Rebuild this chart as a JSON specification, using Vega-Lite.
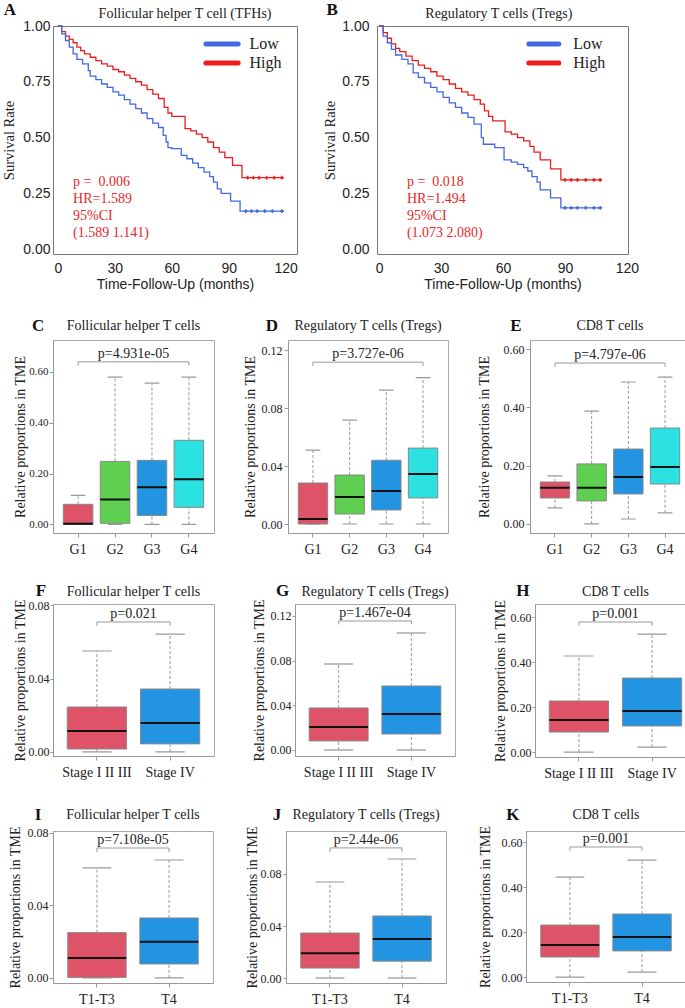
{
 "$schema": "https://vega.github.io/schema/vega-lite/v6.json",
 "background": "white",
 "padding": {"left": 1, "top": 0, "right": 1, "bottom": 0},
 "spacing": 24,
 "config": {
  "font": "Liberation Serif",
  "view": {"stroke": "#a8a8a8", "strokeWidth": 1},
  "axis": {"grid": false, "labelFont": "Liberation Serif", "titleFont": "Liberation Serif", "titleFontWeight": "normal", "labelColor": "#222", "titleColor": "#222", "domainColor": "#999", "tickColor": "#999"},
  "axisX": {"labelAngle": 0, "labelFontSize": 14, "tickSize": 4, "labelPadding": 5},
  "axisY": {"labelFontSize": 12, "titleFontSize": 14, "tickSize": 3, "labelPadding": 1}
 },
 "vconcat": [
  {
   "spacing": 24,
   "hconcat": [
    {
     "width": 244, "height": 228,
     "view": {"stroke": "#777"},
     "layer": [
      {
       "data": {"values": [
        {"grp":"High","t":0,"s":1},{"grp":"High","t":2,"s":0.975},{"grp":"High","t":4,"s":0.955},{"grp":"High","t":6,"s":0.94},{"grp":"High","t":8,"s":0.925},{"grp":"High","t":10,"s":0.905},{"grp":"High","t":12,"s":0.89},{"grp":"High","t":14,"s":0.875},{"grp":"High","t":17,"s":0.86},{"grp":"High","t":20,"s":0.845},{"grp":"High","t":23,"s":0.83},{"grp":"High","t":26,"s":0.82},{"grp":"High","t":29,"s":0.805},{"grp":"High","t":32,"s":0.795},{"grp":"High","t":35,"s":0.78},{"grp":"High","t":38,"s":0.765},{"grp":"High","t":41,"s":0.75},{"grp":"High","t":44,"s":0.735},{"grp":"High","t":47,"s":0.715},{"grp":"High","t":50,"s":0.695},{"grp":"High","t":53,"s":0.675},{"grp":"High","t":56,"s":0.635},{"grp":"High","t":58,"s":0.61},{"grp":"High","t":60,"s":0.595},{"grp":"High","t":67,"s":0.54},{"grp":"High","t":70,"s":0.53},{"grp":"High","t":73,"s":0.515},{"grp":"High","t":76,"s":0.5},{"grp":"High","t":79,"s":0.48},{"grp":"High","t":82,"s":0.455},{"grp":"High","t":85,"s":0.435},{"grp":"High","t":88,"s":0.41},{"grp":"High","t":92,"s":0.375},{"grp":"High","t":97,"s":0.32},{"grp":"High","t":119,"s":0.32},
        {"grp":"Low","t":0,"s":1},{"grp":"Low","t":2,"s":0.965},{"grp":"Low","t":4,"s":0.935},{"grp":"Low","t":6,"s":0.905},{"grp":"Low","t":8,"s":0.875},{"grp":"Low","t":10,"s":0.85},{"grp":"Low","t":13,"s":0.83},{"grp":"Low","t":16,"s":0.8},{"grp":"Low","t":17,"s":0.775},{"grp":"Low","t":20,"s":0.76},{"grp":"Low","t":23,"s":0.74},{"grp":"Low","t":26,"s":0.725},{"grp":"Low","t":29,"s":0.705},{"grp":"Low","t":32,"s":0.69},{"grp":"Low","t":35,"s":0.67},{"grp":"Low","t":38,"s":0.65},{"grp":"Low","t":41,"s":0.63},{"grp":"Low","t":44,"s":0.61},{"grp":"Low","t":47,"s":0.585},{"grp":"Low","t":50,"s":0.565},{"grp":"Low","t":53,"s":0.545},{"grp":"Low","t":55.5,"s":0.51},{"grp":"Low","t":57,"s":0.48},{"grp":"Low","t":58,"s":0.455},{"grp":"Low","t":60,"s":0.45},{"grp":"Low","t":65,"s":0.42},{"grp":"Low","t":68,"s":0.405},{"grp":"Low","t":71,"s":0.385},{"grp":"Low","t":74,"s":0.365},{"grp":"Low","t":77,"s":0.345},{"grp":"Low","t":80,"s":0.325},{"grp":"Low","t":82,"s":0.3},{"grp":"Low","t":84,"s":0.27},{"grp":"Low","t":86,"s":0.25},{"grp":"Low","t":91,"s":0.215},{"grp":"Low","t":96,"s":0.17},{"grp":"Low","t":119,"s":0.17}
       ]},
       "mark": {"type": "line", "interpolate": "step-after", "strokeWidth": 1.3},
       "encoding": {
        "x": {"field": "t", "type": "quantitative", "scale": {"domain": [-2.6, 126], "nice": false, "zero": false},
              "axis": {"values": [0, 30, 60, 90, 120], "title": "Time-Follow-Up (months)", "labelFont": "Liberation Sans", "titleFont": "Liberation Sans", "labelFontSize": 14, "titleFontSize": 14, "ticks": false, "domain": false, "labelPadding": 7, "titlePadding": 2}},
        "y": {"field": "s", "type": "quantitative", "scale": {"domain": [-0.022, 1], "nice": false, "zero": false},
              "axis": {"values": [0, 0.25, 0.5, 0.75, 1], "format": ".2f", "title": "Survival Rate", "labelFont": "Liberation Sans", "labelFontSize": 14, "titleFontSize": 14.5, "ticks": false, "domain": false, "labelPadding": 3, "titlePadding": 6}},
        "color": {"field": "grp", "type": "nominal", "scale": {"domain": ["Low", "High"], "range": ["#4169E1", "#EE1C1C"]}, "legend": null}
       }
      },
      {
       "data": {"values": [
        {"grp":"High","t":100,"s":0.32},{"grp":"High","t":103,"s":0.32},{"grp":"High","t":106,"s":0.32},{"grp":"High","t":110,"s":0.32},{"grp":"High","t":114,"s":0.32},{"grp":"High","t":118,"s":0.32},
        {"grp":"Low","t":99,"s":0.17},{"grp":"Low","t":102,"s":0.17},{"grp":"Low","t":105,"s":0.17},{"grp":"Low","t":109,"s":0.17},{"grp":"Low","t":113,"s":0.17},{"grp":"Low","t":118,"s":0.17}
       ]},
       "mark": {"type": "point", "shape": "cross", "filled": true, "size": 14, "opacity": 1},
       "encoding": {"x": {"field": "t", "type": "quantitative"}, "y": {"field": "s", "type": "quantitative"}, "color": {"field": "grp", "type": "nominal", "legend": null}}
      },
      {"data": {"values": [{}]}, "mark": {"type": "rule", "strokeWidth": 5, "strokeCap": "round"}, "encoding": {"x": {"datum": 78}, "x2": {"datum": 95}, "y": {"datum": 0.919}, "color": {"datum": "Low", "legend": null}}},
      {"data": {"values": [{}]}, "mark": {"type": "rule", "strokeWidth": 5, "strokeCap": "round"}, "encoding": {"x": {"datum": 78}, "x2": {"datum": 95}, "y": {"datum": 0.834}, "color": {"datum": "High", "legend": null}}},
      {"data": {"values": [{}]}, "mark": {"type": "text", "align": "left", "baseline": "middle", "fontSize": 16, "color": "#222"}, "encoding": {"x": {"datum": 101}, "y": {"datum": 0.919}, "text": {"value": "Low"}}},
      {"data": {"values": [{}]}, "mark": {"type": "text", "align": "left", "baseline": "middle", "fontSize": 16, "color": "#222"}, "encoding": {"x": {"datum": 101}, "y": {"datum": 0.834}, "text": {"value": "High"}}},
      {
       "data": {"values": [{"lines": ["p = \u00a00.006", "HR=1.589", "95%CI", "(1.589 1.141)"]}]},
       "mark": {"type": "text", "align": "left", "baseline": "middle", "color": "#E8262A", "fontSize": 14, "lineHeight": 17},
       "encoding": {"x": {"datum": 8}, "y": {"datum": 0.3}, "text": {"field": "lines"}}
      },
      {"data": {"values": [{}]}, "mark": {"type": "text", "fontSize": 14, "baseline": "middle", "dy": -12, "color": "#222"}, "encoding": {"x": {"datum": 67}, "y": {"datum": 1}, "text": {"value": "Follicular helper T cell (TFHs)"}}},
      {"data": {"values": [{}]}, "mark": {"type": "text", "fontWeight": "bold", "fontSize": 17, "baseline": "middle", "dx": -48, "dy": -16, "color": "#111"}, "encoding": {"x": {"datum": 0}, "y": {"datum": 1}, "text": {"value": "A"}}}
     ]
    },
    {
     "width": 251, "height": 228,
     "view": {"stroke": "#777"},
     "layer": [
      {
       "data": {"values": [
        {"grp":"High","t":0,"s":1},{"grp":"High","t":2,"s":0.97},{"grp":"High","t":4,"s":0.945},{"grp":"High","t":6,"s":0.92},{"grp":"High","t":8,"s":0.9},{"grp":"High","t":10,"s":0.885},{"grp":"High","t":13,"s":0.865},{"grp":"High","t":16,"s":0.845},{"grp":"High","t":19,"s":0.825},{"grp":"High","t":22,"s":0.81},{"grp":"High","t":25,"s":0.795},{"grp":"High","t":28,"s":0.775},{"grp":"High","t":31,"s":0.76},{"grp":"High","t":34,"s":0.74},{"grp":"High","t":37,"s":0.72},{"grp":"High","t":40,"s":0.705},{"grp":"High","t":43,"s":0.69},{"grp":"High","t":46,"s":0.67},{"grp":"High","t":49,"s":0.65},{"grp":"High","t":51,"s":0.62},{"grp":"High","t":53,"s":0.595},{"grp":"High","t":55,"s":0.575},{"grp":"High","t":61,"s":0.525},{"grp":"High","t":64,"s":0.515},{"grp":"High","t":67,"s":0.5},{"grp":"High","t":70,"s":0.485},{"grp":"High","t":73,"s":0.46},{"grp":"High","t":75,"s":0.435},{"grp":"High","t":78,"s":0.4},{"grp":"High","t":83,"s":0.36},{"grp":"High","t":88,"s":0.31},{"grp":"High","t":108,"s":0.31},
        {"grp":"Low","t":0,"s":1},{"grp":"Low","t":2,"s":0.955},{"grp":"Low","t":4,"s":0.925},{"grp":"Low","t":6,"s":0.895},{"grp":"Low","t":8,"s":0.87},{"grp":"Low","t":11,"s":0.85},{"grp":"Low","t":14,"s":0.83},{"grp":"Low","t":16.5,"s":0.79},{"grp":"Low","t":19,"s":0.77},{"grp":"Low","t":22,"s":0.745},{"grp":"Low","t":25,"s":0.725},{"grp":"Low","t":28,"s":0.705},{"grp":"Low","t":31,"s":0.68},{"grp":"Low","t":34,"s":0.655},{"grp":"Low","t":37,"s":0.635},{"grp":"Low","t":40,"s":0.61},{"grp":"Low","t":43,"s":0.59},{"grp":"Low","t":46,"s":0.56},{"grp":"Low","t":49.5,"s":0.5},{"grp":"Low","t":50.5,"s":0.47},{"grp":"Low","t":56,"s":0.455},{"grp":"Low","t":60.5,"s":0.4},{"grp":"Low","t":64,"s":0.39},{"grp":"Low","t":67,"s":0.38},{"grp":"Low","t":70,"s":0.365},{"grp":"Low","t":72,"s":0.35},{"grp":"Low","t":74,"s":0.325},{"grp":"Low","t":76.5,"s":0.3},{"grp":"Low","t":78,"s":0.265},{"grp":"Low","t":83,"s":0.23},{"grp":"Low","t":88,"s":0.185},{"grp":"Low","t":108,"s":0.185}
       ]},
       "mark": {"type": "line", "interpolate": "step-after", "strokeWidth": 1.3},
       "encoding": {
        "x": {"field": "t", "type": "quantitative", "scale": {"domain": [-1, 120.5], "nice": false, "zero": false},
              "axis": {"values": [0, 30, 60, 90, 120], "title": "Time-Follow-Up (months)", "labelFont": "Liberation Sans", "titleFont": "Liberation Sans", "labelFontSize": 14, "titleFontSize": 14, "ticks": false, "domain": false, "labelPadding": 7, "titlePadding": 2}},
        "y": {"field": "s", "type": "quantitative", "scale": {"domain": [-0.022, 1], "nice": false, "zero": false},
              "axis": {"values": [0, 0.25, 0.5, 0.75, 1], "format": ".2f", "title": "Survival Rate", "labelFont": "Liberation Sans", "labelFontSize": 14, "titleFontSize": 14.5, "ticks": false, "domain": false, "labelPadding": 8, "titlePadding": 4}},
        "color": {"field": "grp", "type": "nominal", "scale": {"domain": ["Low", "High"], "range": ["#4169E1", "#EE1C1C"]}, "legend": null}
       }
      },
      {
       "data": {"values": [
        {"grp":"High","t":90,"s":0.31},{"grp":"High","t":93,"s":0.31},{"grp":"High","t":96,"s":0.31},{"grp":"High","t":100,"s":0.31},{"grp":"High","t":104,"s":0.31},{"grp":"High","t":107,"s":0.31},
        {"grp":"Low","t":90,"s":0.185},{"grp":"Low","t":93,"s":0.185},{"grp":"Low","t":96,"s":0.185},{"grp":"Low","t":100,"s":0.185},{"grp":"Low","t":104,"s":0.185},{"grp":"Low","t":107,"s":0.185}
       ]},
       "mark": {"type": "point", "shape": "cross", "filled": true, "size": 14, "opacity": 1},
       "encoding": {"x": {"field": "t", "type": "quantitative"}, "y": {"field": "s", "type": "quantitative"}, "color": {"field": "grp", "type": "nominal", "legend": null}}
      },
      {"data": {"values": [{}]}, "mark": {"type": "rule", "strokeWidth": 5, "strokeCap": "round"}, "encoding": {"x": {"datum": 72.5}, "x2": {"datum": 87}, "y": {"datum": 0.919}, "color": {"datum": "Low", "legend": null}}},
      {"data": {"values": [{}]}, "mark": {"type": "rule", "strokeWidth": 5, "strokeCap": "round"}, "encoding": {"x": {"datum": 72.5}, "x2": {"datum": 87}, "y": {"datum": 0.834}, "color": {"datum": "High", "legend": null}}},
      {"data": {"values": [{}]}, "mark": {"type": "text", "align": "left", "baseline": "middle", "fontSize": 16, "color": "#222"}, "encoding": {"x": {"datum": 94}, "y": {"datum": 0.919}, "text": {"value": "Low"}}},
      {"data": {"values": [{}]}, "mark": {"type": "text", "align": "left", "baseline": "middle", "fontSize": 16, "color": "#222"}, "encoding": {"x": {"datum": 94}, "y": {"datum": 0.834}, "text": {"value": "High"}}},
      {
       "data": {"values": [{"lines": ["p = \u00a00.018", "HR=1.494", "95%CI", "(1.073 2.080)"]}]},
       "mark": {"type": "text", "align": "left", "baseline": "middle", "color": "#E8262A", "fontSize": 14, "lineHeight": 17},
       "encoding": {"x": {"datum": 13.5}, "y": {"datum": 0.3}, "text": {"field": "lines"}}
      },
      {"data": {"values": [{}]}, "mark": {"type": "text", "fontSize": 14, "baseline": "middle", "dy": -12, "color": "#222"}, "encoding": {"x": {"datum": 58}, "y": {"datum": 1}, "text": {"value": "Regulatory T cells (Tregs)"}}},
      {"data": {"values": [{}]}, "mark": {"type": "text", "fontWeight": "bold", "fontSize": 17, "baseline": "middle", "dx": -47, "dy": -16, "color": "#111"}, "encoding": {"x": {"datum": 0}, "y": {"datum": 1}, "text": {"value": "B"}}}
     ]
    }
   ]
  },
  {
   "spacing": 27,
   "hconcat": [
    {
     "width": 161, "height": 193,
     "layer": [
      {
       "data": {"values": [
        {"g":"G1","lo":0,"q1":0,"med":0.002,"q3":0.079,"hi":0.114},
        {"g":"G2","lo":0,"q1":0.004,"med":0.098,"q3":0.248,"hi":0.58},
        {"g":"G3","lo":0,"q1":0.035,"med":0.146,"q3":0.252,"hi":0.556},
        {"g":"G4","lo":0,"q1":0.067,"med":0.178,"q3":0.331,"hi":0.58}
       ]},
       "encoding": {"x": {"field": "g", "type": "nominal", "title": null, "scale": {"domain": ["G1","G2","G3","G4"], "paddingInner": 0, "paddingOuter": 0.18}}},
       "layer": [
        {"mark": {"type": "rule", "color": "#999", "strokeDash": [3, 2]}, "encoding": {"y": {"field": "q3", "type": "quantitative", "scale": {"domain": [-0.034, 0.726], "nice": false, "zero": false}, "axis": {"title": "Relative proportions in TME", "values": [0, 0.1, 0.2, 0.3, 0.4, 0.5, 0.6], "labelExpr": "round(datum.value*10)%2==0 ? format(datum.value,'.2f') : ''", "labelFontSize": 11, "tickSize": 4, "labelPadding": 1, "titlePadding": 1}}, "y2": {"field": "hi"}}},
        {"mark": {"type": "rule", "color": "#999", "strokeDash": [3, 2]}, "encoding": {"y": {"field": "lo", "type": "quantitative"}, "y2": {"field": "q1"}}},
        {"mark": {"type": "bar", "width": {"band": 0.4}, "fillOpacity": 0, "stroke": "#999", "strokeWidth": 1.2}, "encoding": {"y": {"field": "hi", "type": "quantitative"}, "y2": {"field": "hi"}}},
        {"mark": {"type": "bar", "width": {"band": 0.4}, "fillOpacity": 0, "stroke": "#999", "strokeWidth": 1.2}, "encoding": {"y": {"field": "lo", "type": "quantitative"}, "y2": {"field": "lo"}}},
        {"mark": {"type": "bar", "width": {"band": 0.8}, "stroke": "#888", "strokeWidth": 1}, "encoding": {"y": {"field": "q1", "type": "quantitative"}, "y2": {"field": "q3"}, "fill": {"field": "g", "type": "nominal", "legend": null, "scale": {"domain": ["G1","G2","G3","G4","Stage I II III","Stage IV","T1-T3","T4"], "range": ["#DF5369","#5ECF50","#2394E2","#2BE1E1","#DF5369","#2394E2","#DF5369","#2394E2"]}}}},
        {"mark": {"type": "bar", "width": {"band": 0.8}, "fillOpacity": 0, "stroke": "#111", "strokeWidth": 2}, "encoding": {"y": {"field": "med", "type": "quantitative"}, "y2": {"field": "med"}}}
       ]
      },
      {
       "data": {"values": [{"a": "G1", "b": "G4", "m": "G2", "y": 0.64, "yd": 0.625, "p": "p=4.931e-05"}]},
       "layer": [
        {"mark": {"type": "rule", "color": "#999"}, "encoding": {"x": {"field": "a", "type": "nominal", "title": null}, "x2": {"field": "b"}, "y": {"field": "y", "type": "quantitative"}}},
        {"mark": {"type": "rule", "color": "#999"}, "encoding": {"x": {"field": "a", "type": "nominal", "title": null}, "y": {"field": "y", "type": "quantitative"}, "y2": {"field": "yd"}}},
        {"mark": {"type": "rule", "color": "#999"}, "encoding": {"x": {"field": "b", "type": "nominal", "title": null}, "y": {"field": "y", "type": "quantitative"}, "y2": {"field": "yd"}}},
        {"mark": {"type": "text", "fontSize": 14, "dy": -4, "baseline": "alphabetic", "color": "#222"}, "encoding": {"x": {"field": "m", "type": "nominal", "title": null, "bandPosition": 1}, "y": {"field": "y", "type": "quantitative"}, "text": {"field": "p"}}}
       ]
      },
      {"data": {"values": [{}]}, "mark": {"type": "text", "fontSize": 14, "baseline": "middle", "dy": -14, "color": "#222"}, "encoding": {"x": {"datum": "G2", "bandPosition": 1}, "y": {"datum": 0.726}, "text": {"value": "Follicular helper T cells"}}},
      {"data": {"values": [{}]}, "mark": {"type": "text", "fontWeight": "bold", "fontSize": 17, "baseline": "middle", "dx": -40, "dy": -14, "color": "#111"}, "encoding": {"x": {"datum": "G1"}, "y": {"datum": 0.726}, "text": {"value": "C"}}}
     ]
    },
    {
     "width": 160, "height": 193,
     "layer": [
      {
       "data": {"values": [
        {"g":"G1","lo":0,"q1":0,"med":0.0034,"q3":0.0283,"hi":0.051},
        {"g":"G2","lo":0,"q1":0.0069,"med":0.0186,"q3":0.0338,"hi":0.0717},
        {"g":"G3","lo":0,"q1":0.0097,"med":0.0228,"q3":0.044,"hi":0.0924},
        {"g":"G4","lo":0,"q1":0.018,"med":0.0345,"q3":0.0524,"hi":0.101}
       ]},
       "encoding": {"x": {"field": "g", "type": "nominal", "title": null, "scale": {"domain": ["G1","G2","G3","G4"], "paddingInner": 0, "paddingOuter": 0.18}}},
       "layer": [
        {"mark": {"type": "rule", "color": "#999", "strokeDash": [3, 2]}, "encoding": {"y": {"field": "q3", "type": "quantitative", "scale": {"domain": [-0.0062, 0.127], "nice": false, "zero": false}, "axis": {"title": "Relative proportions in TME", "values": [0, 0.02, 0.04, 0.06, 0.08, 0.1, 0.12], "labelExpr": "round(datum.value*100)%4==0 ? format(datum.value,'.2f') : ''", "tickSize": 4, "labelPadding": 2, "titlePadding": 4}}, "y2": {"field": "hi"}}},
        {"mark": {"type": "rule", "color": "#999", "strokeDash": [3, 2]}, "encoding": {"y": {"field": "lo", "type": "quantitative"}, "y2": {"field": "q1"}}},
        {"mark": {"type": "bar", "width": {"band": 0.4}, "fillOpacity": 0, "stroke": "#999", "strokeWidth": 1.2}, "encoding": {"y": {"field": "hi", "type": "quantitative"}, "y2": {"field": "hi"}}},
        {"mark": {"type": "bar", "width": {"band": 0.4}, "fillOpacity": 0, "stroke": "#999", "strokeWidth": 1.2}, "encoding": {"y": {"field": "lo", "type": "quantitative"}, "y2": {"field": "lo"}}},
        {"mark": {"type": "bar", "width": {"band": 0.8}, "stroke": "#888", "strokeWidth": 1}, "encoding": {"y": {"field": "q1", "type": "quantitative"}, "y2": {"field": "q3"}, "fill": {"field": "g", "type": "nominal", "legend": null, "scale": {"domain": ["G1","G2","G3","G4","Stage I II III","Stage IV","T1-T3","T4"], "range": ["#DF5369","#5ECF50","#2394E2","#2BE1E1","#DF5369","#2394E2","#DF5369","#2394E2"]}}}},
        {"mark": {"type": "bar", "width": {"band": 0.8}, "fillOpacity": 0, "stroke": "#111", "strokeWidth": 2}, "encoding": {"y": {"field": "med", "type": "quantitative"}, "y2": {"field": "med"}}}
       ]
      },
      {
       "data": {"values": [{"a": "G1", "b": "G4", "m": "G2", "y": 0.1117, "yd": 0.109, "p": "p=3.727e-06"}]},
       "layer": [
        {"mark": {"type": "rule", "color": "#999"}, "encoding": {"x": {"field": "a", "type": "nominal", "title": null}, "x2": {"field": "b"}, "y": {"field": "y", "type": "quantitative"}}},
        {"mark": {"type": "rule", "color": "#999"}, "encoding": {"x": {"field": "a", "type": "nominal", "title": null}, "y": {"field": "y", "type": "quantitative"}, "y2": {"field": "yd"}}},
        {"mark": {"type": "rule", "color": "#999"}, "encoding": {"x": {"field": "b", "type": "nominal", "title": null}, "y": {"field": "y", "type": "quantitative"}, "y2": {"field": "yd"}}},
        {"mark": {"type": "text", "fontSize": 14, "dy": -4, "baseline": "alphabetic", "color": "#222"}, "encoding": {"x": {"field": "m", "type": "nominal", "title": null, "bandPosition": 1}, "y": {"field": "y", "type": "quantitative"}, "text": {"field": "p"}}}
       ]
      },
      {"data": {"values": [{}]}, "mark": {"type": "text", "fontSize": 14, "baseline": "middle", "dy": -14, "color": "#222"}, "encoding": {"x": {"datum": "G2", "bandPosition": 1}, "y": {"datum": 0.127}, "text": {"value": "Regulatory T cells (Tregs)"}}},
      {"data": {"values": [{}]}, "mark": {"type": "text", "fontWeight": "bold", "fontSize": 17, "baseline": "middle", "dx": -41, "dy": -14, "color": "#111"}, "encoding": {"x": {"datum": "G1"}, "y": {"datum": 0.127}, "text": {"value": "D"}}}
     ]
    },
    {
     "width": 160, "height": 193,
     "layer": [
      {
       "data": {"values": [
        {"g":"G1","lo":0.055,"q1":0.089,"med":0.124,"q3":0.144,"hi":0.165},
        {"g":"G2","lo":0,"q1":0.079,"med":0.124,"q3":0.206,"hi":0.387},
        {"g":"G3","lo":0.017,"q1":0.103,"med":0.161,"q3":0.257,"hi":0.487},
        {"g":"G4","lo":0.038,"q1":0.137,"med":0.195,"q3":0.329,"hi":0.504}
       ]},
       "encoding": {"x": {"field": "g", "type": "nominal", "title": null, "scale": {"domain": ["G1","G2","G3","G4"], "paddingInner": 0, "paddingOuter": 0.18}}},
       "layer": [
        {"mark": {"type": "rule", "color": "#999", "strokeDash": [3, 2]}, "encoding": {"y": {"field": "q3", "type": "quantitative", "scale": {"domain": [-0.031, 0.631], "nice": false, "zero": false}, "axis": {"title": "Relative proportions in TME", "values": [0, 0.1, 0.2, 0.3, 0.4, 0.5, 0.6], "labelExpr": "round(datum.value*10)%2==0 ? format(datum.value,'.2f') : ''", "tickSize": 4, "labelPadding": 2, "titlePadding": 12}}, "y2": {"field": "hi"}}},
        {"mark": {"type": "rule", "color": "#999", "strokeDash": [3, 2]}, "encoding": {"y": {"field": "lo", "type": "quantitative"}, "y2": {"field": "q1"}}},
        {"mark": {"type": "bar", "width": {"band": 0.4}, "fillOpacity": 0, "stroke": "#999", "strokeWidth": 1.2}, "encoding": {"y": {"field": "hi", "type": "quantitative"}, "y2": {"field": "hi"}}},
        {"mark": {"type": "bar", "width": {"band": 0.4}, "fillOpacity": 0, "stroke": "#999", "strokeWidth": 1.2}, "encoding": {"y": {"field": "lo", "type": "quantitative"}, "y2": {"field": "lo"}}},
        {"mark": {"type": "bar", "width": {"band": 0.8}, "stroke": "#888", "strokeWidth": 1}, "encoding": {"y": {"field": "q1", "type": "quantitative"}, "y2": {"field": "q3"}, "fill": {"field": "g", "type": "nominal", "legend": null, "scale": {"domain": ["G1","G2","G3","G4","Stage I II III","Stage IV","T1-T3","T4"], "range": ["#DF5369","#5ECF50","#2394E2","#2BE1E1","#DF5369","#2394E2","#DF5369","#2394E2"]}}}},
        {"mark": {"type": "bar", "width": {"band": 0.8}, "fillOpacity": 0, "stroke": "#111", "strokeWidth": 2}, "encoding": {"y": {"field": "med", "type": "quantitative"}, "y2": {"field": "med"}}}
       ]
      },
      {
       "data": {"values": [{"a": "G1", "b": "G4", "m": "G2", "y": 0.552, "yd": 0.539, "p": "p=4.797e-06"}]},
       "layer": [
        {"mark": {"type": "rule", "color": "#999"}, "encoding": {"x": {"field": "a", "type": "nominal", "title": null}, "x2": {"field": "b"}, "y": {"field": "y", "type": "quantitative"}}},
        {"mark": {"type": "rule", "color": "#999"}, "encoding": {"x": {"field": "a", "type": "nominal", "title": null}, "y": {"field": "y", "type": "quantitative"}, "y2": {"field": "yd"}}},
        {"mark": {"type": "rule", "color": "#999"}, "encoding": {"x": {"field": "b", "type": "nominal", "title": null}, "y": {"field": "y", "type": "quantitative"}, "y2": {"field": "yd"}}},
        {"mark": {"type": "text", "fontSize": 14, "dy": -4, "baseline": "alphabetic", "color": "#222"}, "encoding": {"x": {"field": "m", "type": "nominal", "title": null, "bandPosition": 1}, "y": {"field": "y", "type": "quantitative"}, "text": {"field": "p"}}}
       ]
      },
      {"data": {"values": [{}]}, "mark": {"type": "text", "fontSize": 14, "baseline": "middle", "dy": -14, "color": "#222"}, "encoding": {"x": {"datum": "G2", "bandPosition": 1}, "y": {"datum": 0.631}, "text": {"value": "CD8 T cells"}}},
      {"data": {"values": [{}]}, "mark": {"type": "text", "fontWeight": "bold", "fontSize": 17, "baseline": "middle", "dx": -39, "dy": -14, "color": "#111"}, "encoding": {"x": {"datum": "G1"}, "y": {"datum": 0.631}, "text": {"value": "E"}}}
     ]
    }
   ]
  },
  {
   "spacing": 36,
   "hconcat": [
    {
     "width": 161, "height": 152,
     "layer": [
      {
       "data": {"values": [
        {"g":"Stage I II III","lo":0,"q1":0.0016,"med":0.0114,"q3":0.0245,"hi":0.055},
        {"g":"Stage IV","lo":0,"q1":0.0044,"med":0.0158,"q3":0.0343,"hi":0.0642}
       ]},
       "encoding": {"x": {"field": "g", "type": "nominal", "title": null, "scale": {"domain": ["Stage I II III","Stage IV"], "paddingInner": 0, "paddingOuter": 0.1}}},
       "layer": [
        {"mark": {"type": "rule", "color": "#999", "strokeDash": [3, 2]}, "encoding": {"y": {"field": "q3", "type": "quantitative", "scale": {"domain": [-0.0022, 0.0806], "nice": false, "zero": false}, "axis": {"title": "Relative proportions in TME", "values": [0, 0.02, 0.04, 0.06, 0.08], "format": ".2f", "titlePadding": 1}}, "y2": {"field": "hi"}}},
        {"mark": {"type": "rule", "color": "#999", "strokeDash": [3, 2]}, "encoding": {"y": {"field": "lo", "type": "quantitative"}, "y2": {"field": "q1"}}},
        {"mark": {"type": "bar", "width": {"band": 0.4}, "fillOpacity": 0, "stroke": "#999", "strokeWidth": 1.2}, "encoding": {"y": {"field": "hi", "type": "quantitative"}, "y2": {"field": "hi"}}},
        {"mark": {"type": "bar", "width": {"band": 0.4}, "fillOpacity": 0, "stroke": "#999", "strokeWidth": 1.2}, "encoding": {"y": {"field": "lo", "type": "quantitative"}, "y2": {"field": "lo"}}},
        {"mark": {"type": "bar", "width": {"band": 0.81}, "stroke": "#888", "strokeWidth": 1}, "encoding": {"y": {"field": "q1", "type": "quantitative"}, "y2": {"field": "q3"}, "fill": {"field": "g", "type": "nominal", "legend": null, "scale": {"domain": ["G1","G2","G3","G4","Stage I II III","Stage IV","T1-T3","T4"], "range": ["#DF5369","#5ECF50","#2394E2","#2BE1E1","#DF5369","#2394E2","#DF5369","#2394E2"]}}}},
        {"mark": {"type": "bar", "width": {"band": 0.81}, "fillOpacity": 0, "stroke": "#111", "strokeWidth": 2}, "encoding": {"y": {"field": "med", "type": "quantitative"}, "y2": {"field": "med"}}}
       ]
      },
      {
       "data": {"values": [{"a": "Stage I II III", "b": "Stage IV", "y": 0.0708, "yd": 0.0688, "p": "p=0.021"}]},
       "layer": [
        {"mark": {"type": "rule", "color": "#999"}, "encoding": {"x": {"field": "a", "type": "nominal", "title": null}, "x2": {"field": "b"}, "y": {"field": "y", "type": "quantitative"}}},
        {"mark": {"type": "rule", "color": "#999"}, "encoding": {"x": {"field": "a", "type": "nominal", "title": null}, "y": {"field": "y", "type": "quantitative"}, "y2": {"field": "yd"}}},
        {"mark": {"type": "rule", "color": "#999"}, "encoding": {"x": {"field": "b", "type": "nominal", "title": null}, "y": {"field": "y", "type": "quantitative"}, "y2": {"field": "yd"}}},
        {"mark": {"type": "text", "fontSize": 14, "dy": -4, "baseline": "alphabetic", "color": "#222"}, "encoding": {"x": {"field": "a", "type": "nominal", "title": null, "bandPosition": 1}, "y": {"field": "y", "type": "quantitative"}, "text": {"field": "p"}}}
       ]
      },
      {"data": {"values": [{}]}, "mark": {"type": "text", "fontSize": 14, "baseline": "middle", "dy": -12, "color": "#222"}, "encoding": {"x": {"datum": "Stage I II III", "bandPosition": 1}, "y": {"datum": 0.0806}, "text": {"value": "Follicular helper T cells"}}},
      {"data": {"values": [{}]}, "mark": {"type": "text", "fontWeight": "bold", "fontSize": 17, "baseline": "middle", "dx": -56, "dy": -13, "color": "#111"}, "encoding": {"x": {"datum": "Stage I II III"}, "y": {"datum": 0.0806}, "text": {"value": "F"}}}
     ]
    },
    {
     "width": 160, "height": 152,
     "layer": [
      {
       "data": {"values": [
        {"g":"Stage I II III","lo":0,"q1":0.0081,"med":0.0206,"q3":0.0376,"hi":0.077},
        {"g":"Stage IV","lo":0,"q1":0.0143,"med":0.0322,"q3":0.0573,"hi":0.1047}
       ]},
       "encoding": {"x": {"field": "g", "type": "nominal", "title": null, "scale": {"domain": ["Stage I II III","Stage IV"], "paddingInner": 0, "paddingOuter": 0.1}}},
       "layer": [
        {"mark": {"type": "rule", "color": "#999", "strokeDash": [3, 2]}, "encoding": {"y": {"field": "q3", "type": "quantitative", "scale": {"domain": [-0.0054, 0.1307], "nice": false, "zero": false}, "axis": {"title": "Relative proportions in TME", "values": [0, 0.02, 0.04, 0.06, 0.08, 0.1, 0.12], "labelExpr": "round(datum.value*100)%4==0 ? format(datum.value,'.2f') : ''", "titlePadding": 4}}, "y2": {"field": "hi"}}},
        {"mark": {"type": "rule", "color": "#999", "strokeDash": [3, 2]}, "encoding": {"y": {"field": "lo", "type": "quantitative"}, "y2": {"field": "q1"}}},
        {"mark": {"type": "bar", "width": {"band": 0.4}, "fillOpacity": 0, "stroke": "#aaa", "strokeWidth": 1.6}, "encoding": {"y": {"field": "hi", "type": "quantitative"}, "y2": {"field": "hi"}}},
        {"mark": {"type": "bar", "width": {"band": 0.4}, "fillOpacity": 0, "stroke": "#aaa", "strokeWidth": 1.6}, "encoding": {"y": {"field": "lo", "type": "quantitative"}, "y2": {"field": "lo"}}},
        {"mark": {"type": "bar", "width": {"band": 0.81}, "stroke": "#888", "strokeWidth": 1}, "encoding": {"y": {"field": "q1", "type": "quantitative"}, "y2": {"field": "q3"}, "fill": {"field": "g", "type": "nominal", "legend": null, "scale": {"domain": ["G1","G2","G3","G4","Stage I II III","Stage IV","T1-T3","T4"], "range": ["#DF5369","#5ECF50","#2394E2","#2BE1E1","#DF5369","#2394E2","#DF5369","#2394E2"]}}}},
        {"mark": {"type": "bar", "width": {"band": 0.81}, "fillOpacity": 0, "stroke": "#111", "strokeWidth": 2}, "encoding": {"y": {"field": "med", "type": "quantitative"}, "y2": {"field": "med"}}}
       ]
      },
      {
       "data": {"values": [{"a": "Stage I II III", "b": "Stage IV", "y": 0.1155, "yd": 0.1125, "p": "p=1.467e-04"}]},
       "layer": [
        {"mark": {"type": "rule", "color": "#999"}, "encoding": {"x": {"field": "a", "type": "nominal", "title": null}, "x2": {"field": "b"}, "y": {"field": "y", "type": "quantitative"}}},
        {"mark": {"type": "rule", "color": "#999"}, "encoding": {"x": {"field": "a", "type": "nominal", "title": null}, "y": {"field": "y", "type": "quantitative"}, "y2": {"field": "yd"}}},
        {"mark": {"type": "rule", "color": "#999"}, "encoding": {"x": {"field": "b", "type": "nominal", "title": null}, "y": {"field": "y", "type": "quantitative"}, "y2": {"field": "yd"}}},
        {"mark": {"type": "text", "fontSize": 14, "dy": -4, "baseline": "alphabetic", "color": "#222"}, "encoding": {"x": {"field": "a", "type": "nominal", "title": null, "bandPosition": 1}, "y": {"field": "y", "type": "quantitative"}, "text": {"field": "p"}}}
       ]
      },
      {"data": {"values": [{}]}, "mark": {"type": "text", "fontSize": 14, "baseline": "middle", "dy": -12, "color": "#222"}, "encoding": {"x": {"datum": "Stage I II III", "bandPosition": 1}, "y": {"datum": 0.1307}, "text": {"value": "Regulatory T cells (Tregs)"}}},
      {"data": {"values": [{}]}, "mark": {"type": "text", "fontWeight": "bold", "fontSize": 17, "baseline": "middle", "dx": -56, "dy": -13, "color": "#111"}, "encoding": {"x": {"datum": "Stage I II III"}, "y": {"datum": 0.1307}, "text": {"value": "G"}}}
     ]
    },
    {
     "width": 161, "height": 153,
     "layer": [
      {
       "data": {"values": [
        {"g":"Stage I II III","lo":0,"q1":0.089,"med":0.142,"q3":0.227,"hi":0.427},
        {"g":"Stage IV","lo":0.022,"q1":0.116,"med":0.182,"q3":0.329,"hi":0.524}
       ]},
       "encoding": {"x": {"field": "g", "type": "nominal", "title": null, "scale": {"domain": ["Stage I II III","Stage IV"], "paddingInner": 0, "paddingOuter": 0.1}}},
       "layer": [
        {"mark": {"type": "rule", "color": "#999", "strokeDash": [3, 2]}, "encoding": {"y": {"field": "q3", "type": "quantitative", "scale": {"domain": [-0.022, 0.658], "nice": false, "zero": false}, "axis": {"title": "Relative proportions in TME", "values": [0, 0.1, 0.2, 0.3, 0.4, 0.5, 0.6], "labelExpr": "round(datum.value*10)%2==0 ? format(datum.value,'.2f') : ''", "titlePadding": 3}}, "y2": {"field": "hi"}}},
        {"mark": {"type": "rule", "color": "#999", "strokeDash": [3, 2]}, "encoding": {"y": {"field": "lo", "type": "quantitative"}, "y2": {"field": "q1"}}},
        {"mark": {"type": "bar", "width": {"band": 0.4}, "fillOpacity": 0, "stroke": "#999", "strokeWidth": 1.2}, "encoding": {"y": {"field": "hi", "type": "quantitative"}, "y2": {"field": "hi"}}},
        {"mark": {"type": "bar", "width": {"band": 0.4}, "fillOpacity": 0, "stroke": "#999", "strokeWidth": 1.2}, "encoding": {"y": {"field": "lo", "type": "quantitative"}, "y2": {"field": "lo"}}},
        {"mark": {"type": "bar", "width": {"band": 0.81}, "stroke": "#888", "strokeWidth": 1}, "encoding": {"y": {"field": "q1", "type": "quantitative"}, "y2": {"field": "q3"}, "fill": {"field": "g", "type": "nominal", "legend": null, "scale": {"domain": ["G1","G2","G3","G4","Stage I II III","Stage IV","T1-T3","T4"], "range": ["#DF5369","#5ECF50","#2394E2","#2BE1E1","#DF5369","#2394E2","#DF5369","#2394E2"]}}}},
        {"mark": {"type": "bar", "width": {"band": 0.81}, "fillOpacity": 0, "stroke": "#111", "strokeWidth": 2}, "encoding": {"y": {"field": "med", "type": "quantitative"}, "y2": {"field": "med"}}}
       ]
      },
      {
       "data": {"values": [{"a": "Stage I II III", "b": "Stage IV", "y": 0.578, "yd": 0.561, "p": "p=0.001"}]},
       "layer": [
        {"mark": {"type": "rule", "color": "#999"}, "encoding": {"x": {"field": "a", "type": "nominal", "title": null}, "x2": {"field": "b"}, "y": {"field": "y", "type": "quantitative"}}},
        {"mark": {"type": "rule", "color": "#999"}, "encoding": {"x": {"field": "a", "type": "nominal", "title": null}, "y": {"field": "y", "type": "quantitative"}, "y2": {"field": "yd"}}},
        {"mark": {"type": "rule", "color": "#999"}, "encoding": {"x": {"field": "b", "type": "nominal", "title": null}, "y": {"field": "y", "type": "quantitative"}, "y2": {"field": "yd"}}},
        {"mark": {"type": "text", "fontSize": 14, "dy": -4, "baseline": "alphabetic", "color": "#222"}, "encoding": {"x": {"field": "a", "type": "nominal", "title": null, "bandPosition": 1}, "y": {"field": "y", "type": "quantitative"}, "text": {"field": "p"}}}
       ]
      },
      {"data": {"values": [{}]}, "mark": {"type": "text", "fontSize": 14, "baseline": "middle", "dy": -12, "color": "#222"}, "encoding": {"x": {"datum": "Stage I II III", "bandPosition": 1}, "y": {"datum": 0.658}, "text": {"value": "CD8 T cells"}}},
      {"data": {"values": [{}]}, "mark": {"type": "text", "fontWeight": "bold", "fontSize": 17, "baseline": "middle", "dx": -56, "dy": -13, "color": "#111"}, "encoding": {"x": {"datum": "Stage I II III"}, "y": {"datum": 0.658}, "text": {"value": "H"}}}
     ]
    }
   ]
  },
  {
   "spacing": 30,
   "hconcat": [
    {
     "width": 160, "height": 152,
     "layer": [
      {
       "data": {"values": [
        {"g":"T1-T3","lo":0,"q1":0.0003,"med":0.011,"q3":0.025,"hi":0.0607},
        {"g":"T4","lo":0,"q1":0.0077,"med":0.0199,"q3":0.0331,"hi":0.0651}
       ]},
       "encoding": {"x": {"field": "g", "type": "nominal", "title": null, "scale": {"domain": ["T1-T3","T4"], "paddingInner": 0, "paddingOuter": 0.11}}},
       "layer": [
        {"mark": {"type": "rule", "color": "#999", "strokeDash": [3, 2]}, "encoding": {"y": {"field": "q3", "type": "quantitative", "scale": {"domain": [-0.0028, 0.0811], "nice": false, "zero": false}, "axis": {"title": "Relative proportions in TME", "values": [0, 0.02, 0.04, 0.06, 0.08], "format": ".2f", "titlePadding": 5, "tickSize": 4}}, "y2": {"field": "hi"}}},
        {"mark": {"type": "rule", "color": "#999", "strokeDash": [3, 2]}, "encoding": {"y": {"field": "lo", "type": "quantitative"}, "y2": {"field": "q1"}}},
        {"mark": {"type": "bar", "width": {"band": 0.4}, "fillOpacity": 0, "stroke": "#999", "strokeWidth": 1.2}, "encoding": {"y": {"field": "hi", "type": "quantitative"}, "y2": {"field": "hi"}}},
        {"mark": {"type": "bar", "width": {"band": 0.4}, "fillOpacity": 0, "stroke": "#999", "strokeWidth": 1.2}, "encoding": {"y": {"field": "lo", "type": "quantitative"}, "y2": {"field": "lo"}}},
        {"mark": {"type": "bar", "width": {"band": 0.81}, "stroke": "#888", "strokeWidth": 1}, "encoding": {"y": {"field": "q1", "type": "quantitative"}, "y2": {"field": "q3"}, "fill": {"field": "g", "type": "nominal", "legend": null, "scale": {"domain": ["G1","G2","G3","G4","Stage I II III","Stage IV","T1-T3","T4"], "range": ["#DF5369","#5ECF50","#2394E2","#2BE1E1","#DF5369","#2394E2","#DF5369","#2394E2"]}}}},
        {"mark": {"type": "bar", "width": {"band": 0.81}, "fillOpacity": 0, "stroke": "#111", "strokeWidth": 2}, "encoding": {"y": {"field": "med", "type": "quantitative"}, "y2": {"field": "med"}}}
       ]
      },
      {
       "data": {"values": [{"a": "T1-T3", "b": "T4", "y": 0.0717, "yd": 0.0695, "p": "p=7.108e-05"}]},
       "layer": [
        {"mark": {"type": "rule", "color": "#999"}, "encoding": {"x": {"field": "a", "type": "nominal", "title": null}, "x2": {"field": "b"}, "y": {"field": "y", "type": "quantitative"}}},
        {"mark": {"type": "rule", "color": "#999"}, "encoding": {"x": {"field": "a", "type": "nominal", "title": null}, "y": {"field": "y", "type": "quantitative"}, "y2": {"field": "yd"}}},
        {"mark": {"type": "rule", "color": "#999"}, "encoding": {"x": {"field": "b", "type": "nominal", "title": null}, "y": {"field": "y", "type": "quantitative"}, "y2": {"field": "yd"}}},
        {"mark": {"type": "text", "fontSize": 14, "dy": -4, "baseline": "alphabetic", "color": "#222"}, "encoding": {"x": {"field": "a", "type": "nominal", "title": null, "bandPosition": 1}, "y": {"field": "y", "type": "quantitative"}, "text": {"field": "p"}}}
       ]
      },
      {"data": {"values": [{}]}, "mark": {"type": "text", "fontSize": 14, "baseline": "middle", "dy": -16, "color": "#222"}, "encoding": {"x": {"datum": "T1-T3", "bandPosition": 1}, "y": {"datum": 0.0811}, "text": {"value": "Follicular helper T cells"}}},
      {"data": {"values": [{}]}, "mark": {"type": "text", "fontWeight": "bold", "fontSize": 17, "baseline": "middle", "dx": -59, "dy": -16, "color": "#111"}, "encoding": {"x": {"datum": "T1-T3"}, "y": {"datum": 0.0811}, "text": {"value": "I"}}}
     ]
    },
    {
     "width": 160, "height": 152,
     "layer": [
      {
       "data": {"values": [
        {"g":"T1-T3","lo":0,"q1":0.0077,"med":0.019,"q3":0.0346,"hi":0.0738},
        {"g":"T4","lo":0,"q1":0.013,"med":0.03,"q3":0.0477,"hi":0.0915}
       ]},
       "encoding": {"x": {"field": "g", "type": "nominal", "title": null, "scale": {"domain": ["T1-T3","T4"], "paddingInner": 0, "paddingOuter": 0.11}}},
       "layer": [
        {"mark": {"type": "rule", "color": "#999", "strokeDash": [3, 2]}, "encoding": {"y": {"field": "q3", "type": "quantitative", "scale": {"domain": [-0.0038, 0.113], "nice": false, "zero": false}, "axis": {"title": "Relative proportions in TME", "values": [0, 0.02, 0.04, 0.06, 0.08, 0.1], "labelExpr": "round(datum.value*100)%4==0 ? format(datum.value,'.2f') : ''", "titlePadding": 1, "labelPadding": 2}}, "y2": {"field": "hi"}}},
        {"mark": {"type": "rule", "color": "#999", "strokeDash": [3, 2]}, "encoding": {"y": {"field": "lo", "type": "quantitative"}, "y2": {"field": "q1"}}},
        {"mark": {"type": "bar", "width": {"band": 0.4}, "fillOpacity": 0, "stroke": "#999", "strokeWidth": 1.2}, "encoding": {"y": {"field": "hi", "type": "quantitative"}, "y2": {"field": "hi"}}},
        {"mark": {"type": "bar", "width": {"band": 0.4}, "fillOpacity": 0, "stroke": "#aaa", "strokeWidth": 1.6}, "encoding": {"y": {"field": "lo", "type": "quantitative"}, "y2": {"field": "lo"}}},
        {"mark": {"type": "bar", "width": {"band": 0.81}, "stroke": "#888", "strokeWidth": 1}, "encoding": {"y": {"field": "q1", "type": "quantitative"}, "y2": {"field": "q3"}, "fill": {"field": "g", "type": "nominal", "legend": null, "scale": {"domain": ["G1","G2","G3","G4","Stage I II III","Stage IV","T1-T3","T4"], "range": ["#DF5369","#5ECF50","#2394E2","#2BE1E1","#DF5369","#2394E2","#DF5369","#2394E2"]}}}},
        {"mark": {"type": "bar", "width": {"band": 0.81}, "fillOpacity": 0, "stroke": "#111", "strokeWidth": 2}, "encoding": {"y": {"field": "med", "type": "quantitative"}, "y2": {"field": "med"}}}
       ]
      },
      {
       "data": {"values": [{"a": "T1-T3", "b": "T4", "y": 0.1, "yd": 0.097, "p": "p=2.44e-06"}]},
       "layer": [
        {"mark": {"type": "rule", "color": "#999"}, "encoding": {"x": {"field": "a", "type": "nominal", "title": null}, "x2": {"field": "b"}, "y": {"field": "y", "type": "quantitative"}}},
        {"mark": {"type": "rule", "color": "#999"}, "encoding": {"x": {"field": "a", "type": "nominal", "title": null}, "y": {"field": "y", "type": "quantitative"}, "y2": {"field": "yd"}}},
        {"mark": {"type": "rule", "color": "#999"}, "encoding": {"x": {"field": "b", "type": "nominal", "title": null}, "y": {"field": "y", "type": "quantitative"}, "y2": {"field": "yd"}}},
        {"mark": {"type": "text", "fontSize": 14, "dy": -4, "baseline": "alphabetic", "color": "#222"}, "encoding": {"x": {"field": "a", "type": "nominal", "title": null, "bandPosition": 1}, "y": {"field": "y", "type": "quantitative"}, "text": {"field": "p"}}}
       ]
      },
      {"data": {"values": [{}]}, "mark": {"type": "text", "fontSize": 14, "baseline": "middle", "dy": -16, "color": "#222"}, "encoding": {"x": {"datum": "T1-T3", "bandPosition": 1}, "y": {"datum": 0.113}, "text": {"value": "Regulatory T cells (Tregs)"}}},
      {"data": {"values": [{}]}, "mark": {"type": "text", "fontWeight": "bold", "fontSize": 17, "baseline": "middle", "dx": -53, "dy": -16, "color": "#111"}, "encoding": {"x": {"datum": "T1-T3"}, "y": {"datum": 0.113}, "text": {"value": "J"}}}
     ]
    },
    {
     "width": 160, "height": 151,
     "layer": [
      {
       "data": {"values": [
        {"g":"T1-T3","lo":0,"q1":0.089,"med":0.142,"q3":0.231,"hi":0.444},
        {"g":"T4","lo":0.022,"q1":0.116,"med":0.178,"q3":0.28,"hi":0.52}
       ]},
       "encoding": {"x": {"field": "g", "type": "nominal", "title": null, "scale": {"domain": ["T1-T3","T4"], "paddingInner": 0, "paddingOuter": 0.11}}},
       "layer": [
        {"mark": {"type": "rule", "color": "#999", "strokeDash": [3, 2]}, "encoding": {"y": {"field": "q3", "type": "quantitative", "scale": {"domain": [-0.022, 0.649], "nice": false, "zero": false}, "axis": {"title": "Relative proportions in TME", "values": [0, 0.1, 0.2, 0.3, 0.4, 0.5, 0.6], "labelExpr": "round(datum.value*10)%2==0 ? format(datum.value,'.2f') : ''", "titlePadding": 9}}, "y2": {"field": "hi"}}},
        {"mark": {"type": "rule", "color": "#999", "strokeDash": [3, 2]}, "encoding": {"y": {"field": "lo", "type": "quantitative"}, "y2": {"field": "q1"}}},
        {"mark": {"type": "bar", "width": {"band": 0.4}, "fillOpacity": 0, "stroke": "#999", "strokeWidth": 1.2}, "encoding": {"y": {"field": "hi", "type": "quantitative"}, "y2": {"field": "hi"}}},
        {"mark": {"type": "bar", "width": {"band": 0.4}, "fillOpacity": 0, "stroke": "#999", "strokeWidth": 1.2}, "encoding": {"y": {"field": "lo", "type": "quantitative"}, "y2": {"field": "lo"}}},
        {"mark": {"type": "bar", "width": {"band": 0.81}, "stroke": "#888", "strokeWidth": 1}, "encoding": {"y": {"field": "q1", "type": "quantitative"}, "y2": {"field": "q3"}, "fill": {"field": "g", "type": "nominal", "legend": null, "scale": {"domain": ["G1","G2","G3","G4","Stage I II III","Stage IV","T1-T3","T4"], "range": ["#DF5369","#5ECF50","#2394E2","#2BE1E1","#DF5369","#2394E2","#DF5369","#2394E2"]}}}},
        {"mark": {"type": "bar", "width": {"band": 0.81}, "fillOpacity": 0, "stroke": "#111", "strokeWidth": 2}, "encoding": {"y": {"field": "med", "type": "quantitative"}, "y2": {"field": "med"}}}
       ]
      },
      {
       "data": {"values": [{"a": "T1-T3", "b": "T4", "y": 0.578, "yd": 0.561, "p": "p=0.001"}]},
       "layer": [
        {"mark": {"type": "rule", "color": "#999"}, "encoding": {"x": {"field": "a", "type": "nominal", "title": null}, "x2": {"field": "b"}, "y": {"field": "y", "type": "quantitative"}}},
        {"mark": {"type": "rule", "color": "#999"}, "encoding": {"x": {"field": "a", "type": "nominal", "title": null}, "y": {"field": "y", "type": "quantitative"}, "y2": {"field": "yd"}}},
        {"mark": {"type": "rule", "color": "#999"}, "encoding": {"x": {"field": "b", "type": "nominal", "title": null}, "y": {"field": "y", "type": "quantitative"}, "y2": {"field": "yd"}}},
        {"mark": {"type": "text", "fontSize": 14, "dy": -4, "baseline": "alphabetic", "color": "#222"}, "encoding": {"x": {"field": "a", "type": "nominal", "title": null, "bandPosition": 1}, "y": {"field": "y", "type": "quantitative"}, "text": {"field": "p"}}}
       ]
      },
      {"data": {"values": [{}]}, "mark": {"type": "text", "fontSize": 14, "baseline": "middle", "dy": -16, "color": "#222"}, "encoding": {"x": {"datum": "T1-T3", "bandPosition": 1}, "y": {"datum": 0.649}, "text": {"value": "CD8  T cells"}}},
      {"data": {"values": [{}]}, "mark": {"type": "text", "fontWeight": "bold", "fontSize": 17, "baseline": "middle", "dx": -57, "dy": -16, "color": "#111"}, "encoding": {"x": {"datum": "T1-T3"}, "y": {"datum": 0.649}, "text": {"value": "K"}}}
     ]
    }
   ]
  }
 ]
}
